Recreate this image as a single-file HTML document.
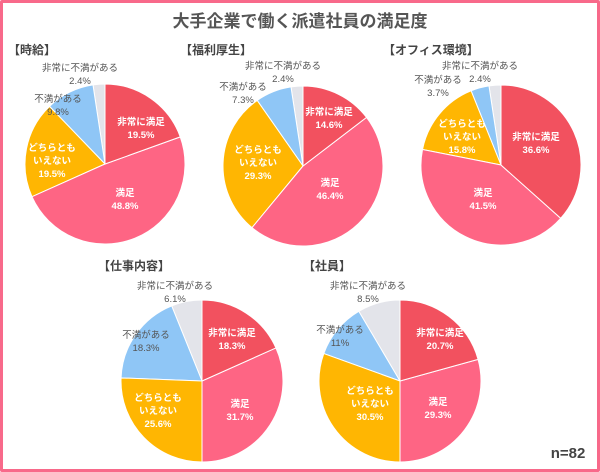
<!DOCTYPE html>
<html><head><meta charset="utf-8">
<style>
body{margin:0;width:600px;height:472px;overflow:hidden;background:#fff;font-family:"Liberation Sans","Noto Sans CJK JP",sans-serif}
#f{position:absolute;left:0;top:0;width:594px;height:466px;border:3px solid #f8698a;border-radius:2px}
svg{position:absolute;left:0;top:0}
text{font-family:"Liberation Sans","Noto Sans CJK JP",sans-serif;font-size:9.5px;text-anchor:middle}
.w{fill:#fff;font-weight:bold}
.g{fill:#555}
.h{font-size:12px;font-weight:bold;fill:#444;text-anchor:start}
</style></head><body>
<div id="f"></div>
<svg id="s" width="600" height="472">
<text x="300" y="27" style="font-size:17px;font-weight:bold;fill:#555">大手企業で働く派遣社員の満足度</text>
<text class="h" x="8" y="54">【時給】</text>
<text class="h" x="180" y="54">【福利厚生】</text>
<text class="h" x="383" y="54">【オフィス環境】</text>
<text class="h" x="98" y="270">【仕事内容】</text>
<text class="h" x="303" y="270">【社員】</text>
<text x="568" y="458" style="font-size:15px;font-weight:bold;fill:#444">n=82</text>
</svg>
<script>
var cols=["#f2515f","#fe6584","#ffb602","#8fc6f6","#e3e4ea"];
var pies=[[105,164,80,[19.5,48.8,19.5,9.8,2.4]],[303,166,80,[14.6,46.4,29.3,7.3,2.4]],[501,165,80,[36.6,41.5,15.8,3.7,2.4]],[202,381,81,[18.3,31.7,25.6,18.3,6.1]],[400,381,81,[20.7,29.3,30.5,11,8.5]]];
var L=[
[[141,122],[125,193],[52,148],[58,99],[80,68]],
[[329,112],[330,183],[258,150],[243,87],[283,66]],
[[536,137],[483,193],[462,124],[438,80],[480,66]],
[[232,333],[240,404],[158,398],[146,335],[175,286]],
[[440,333],[438,402],[370,391],[340,330],[368,286]]];
var s=document.getElementById("s"),ns="http://www.w3.org/2000/svg";
var names=["非常に満足","満足","どちらとも|いえない","不満がある","非常に不満がある"];
pies.forEach(function(p,pi){
 var t=p[3].reduce(function(a,b){return a+b},0),a=0;
 p[3].forEach(function(v,i){
  var a0=a/t*2*Math.PI;a+=v;var a1=a/t*2*Math.PI;
  var x0=p[0]+p[2]*Math.sin(a0),y0=p[1]-p[2]*Math.cos(a0),x1=p[0]+p[2]*Math.sin(a1),y1=p[1]-p[2]*Math.cos(a1);
  var e=document.createElementNS(ns,"path");
  e.setAttribute("d","M"+p[0]+","+p[1]+"L"+x0+","+y0+"A"+p[2]+","+p[2]+" 0 "+(a1-a0>Math.PI?1:0)+" 1 "+x1+","+y1+"Z");
  e.setAttribute("fill",cols[i]);e.setAttribute("stroke","#fff");e.setAttribute("stroke-width","1");
  s.insertBefore(e,s.firstChild);
  var nm=names[i].split("|");nm.push(v+"%");
  var cls=i<3?"w":"g",lx=L[pi][i][0],y=L[pi][i][1]+3;
  nm.forEach(function(l,k){var tx=document.createElementNS(ns,"text");tx.setAttribute("x",lx);tx.setAttribute("y",y+k*13);tx.setAttribute("class",cls);tx.textContent=l;s.appendChild(tx);});
 });
});
</script>
</body></html>
